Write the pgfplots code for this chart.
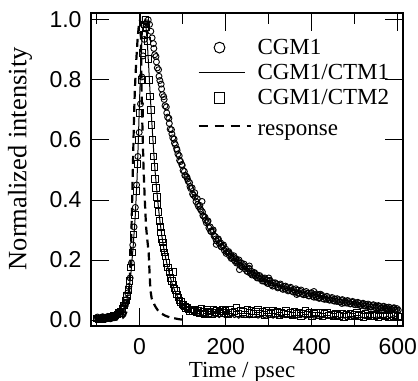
\documentclass[border=0pt]{standalone}
\usepackage{fontspec}
\setmainfont{Liberation Serif}
\newfontfamily\ticksf{Liberation Sans}
\usepackage{pgfplots}
\pgfplotsset{compat=1.18}
\begin{document}
\begin{tikzpicture}
\begin{axis}[name=ax, scale only axis, width=312bp, height=313bp,
  xmin=-113, xmax=612, ymin=-0.02, ymax=1.023,
  xtick={0,200,400,600}, minor xtick={-100,100,300,500},
  ytick={0,0.2,0.4,0.6,0.8,1.0},
  tick align=inside, major tick length=18bp, minor tick length=11bp,
  every tick/.style={black, line width=0.9bp},
  axis line style={line width=1.2bp},
  /pgf/number format/assume math mode=true,
  yticklabel style={/pgf/number format/fixed, /pgf/number format/fixed zerofill, /pgf/number format/precision=1, xshift=-6bp},
  tick label style={font=\ticksf\fontsize{23bp}{27bp}\selectfont},
  xticklabel style={yshift=-9bp},
  xlabel={Time / psec}, ylabel={Normalized intensity},
  xlabel style={font=\fontsize{23bp}{27bp}\selectfont, at={(axis description cs:0.484,-0.147)}, anchor=center},
  ylabel style={font=\fontsize{26.5bp}{30bp}\selectfont, at={(axis description cs:-0.2276,0.534)}, anchor=center},
  legend cell align=left,
  legend style={at={(0.34,0.92)}, anchor=north west, draw=none, fill=none,
    inner sep=0pt, font=\fontsize{23bp}{27bp}\selectfont,
    nodes={inner sep=1bp}, row sep=6.5bp},
]
\addplot[only marks, mark=o, mark size=3bp, mark options={line width=0.9bp},
  legend image code/.code={\path[draw=none,fill=none] (0bp,-2bp) rectangle (58bp,2bp); \draw[line width=1bp] (21bp,0bp) circle (5.4bp);}]
coordinates {(-100,0.004)(-97,0.007)(-94,0.003)(-91,0.006)(-88,0.008)(-85,0.004)(-82,0.007)(-79,0.005)(-76,0.009)(-73,0.006)(-70,0.008)(-67,0.011)(-64,0.009)(-61,0.012)(-58,0.014)(-55,0.013)(-52,0.019)(-49,0.021)(-46,0.026)(-43,0.030)(-40,0.036)(-37,0.045)(-34,0.055)(-31,0.068)(-28,0.09)(-25,0.112)(-22,0.14)(-19,0.19)(-16,0.25)(-13,0.31)(-10,0.375)(-7,0.45)(-4,0.545)(-1,0.625)(2,0.72)(5,0.81)(8,0.88)(11,0.935)(14,0.97)(17,0.99)(20,1.0)(23,0.985)(26,0.962)(29,0.94)
(32,0.921)(35,0.884)(38,0.878)(41,0.840)(44,0.834)(47,0.798)(50,0.786)(53,0.751)(56,0.744)(59,0.714)(62,0.71)(65,0.676)(68,0.672)(71,0.636)(74,0.634)(77,0.607)(80,0.603)(83,0.584)(86,0.571)(89,0.553)(92,0.547)(95,0.528)(98,0.518)(101,0.498)(104,0.495)(107,0.481)(110,0.476)(113,0.462)(116,0.458)(119,0.438)(122,0.44)(125,0.416)(128,0.424)(131,0.395)(134,0.404)(137,0.378)(140,0.382)(143,0.365)(146,0.36)(149,0.346)(152,0.342)(155,0.324)(158,0.327)(161,0.307)(164,0.31)(167,0.294)(170,0.296)(173,0.28)(176,0.278)(179,0.263)(182,0.268)(185,0.256)(188,0.257)(191,0.243)(194,0.246)(197,0.232)(200,0.236)(203,0.226)(206,0.225)(209,0.214)(212,0.218)(215,0.207)(218,0.209)(221,0.197)(224,0.204)(227,0.193)(230,0.195)(233,0.182)(236,0.19)(239,0.176)(242,0.181)(245,0.17)(248,0.175)(251,0.161)(254,0.17)(257,0.156)(260,0.162)(263,0.152)(266,0.156)(269,0.146)(272,0.151)(275,0.141)(278,0.145)(281,0.137)(284,0.141)(287,0.131)(290,0.137)(293,0.127)(296,0.133)(299,0.122)
(302,0.129)(306,0.118)(310,0.124)(314,0.114)(318,0.12)(322,0.11)(326,0.116)(330,0.106)(334,0.112)(338,0.103)(342,0.108)(346,0.1)(350,0.105)(354,0.096)(358,0.101)(362,0.093)(366,0.099)(370,0.09)(374,0.095)(378,0.087)(382,0.092)(386,0.085)(390,0.089)(394,0.081)(398,0.088)(402,0.079)(406,0.084)(410,0.076)(414,0.082)(418,0.074)(422,0.079)(426,0.071)(430,0.076)(434,0.069)(438,0.074)(442,0.067)(446,0.071)(450,0.064)(454,0.07)(458,0.062)(462,0.067)(466,0.06)(470,0.065)(474,0.058)(478,0.063)(482,0.056)(486,0.061)(490,0.054)(494,0.059)(498,0.052)(502,0.057)(506,0.051)(510,0.055)(514,0.049)(518,0.053)(522,0.047)(526,0.052)(530,0.045)(534,0.05)(538,0.044)(542,0.048)(546,0.042)(550,0.047)(554,0.041)(558,0.045)(562,0.04)(566,0.044)(570,0.038)(574,0.042)(578,0.037)(582,0.041)(586,0.035)(590,0.039)(594,0.034)(598,0.038)(601,0.033)
(145,0.395)(178,0.252)(232,0.168)(255,0.18)(300,0.14)(365,0.085)(405,0.095)(420,0.086)(470,0.055)
(-98,0.01)(-92,0.002)(-86,0.011)(-80,0.002)(-74,0.012)(-68,0.004)(-62,0.015)(-56,0.009)(-50,0.024)(-44,0.022)(-38,0.046)(-32,0.058)
(33,0.905)(39,0.86)(45,0.812)(51,0.77)(57,0.735)(63,0.69)(69,0.655)(75,0.62)(81,0.59)(87,0.566)(93,0.532)(99,0.515)(105,0.482)(111,0.47)(117,0.445)(123,0.42)(129,0.41)(135,0.385)(141,0.37)(147,0.348)(153,0.333)(159,0.33)(165,0.296)(171,0.3)(177,0.27)(183,0.27)(189,0.245)(195,0.25)(201,0.222)(207,0.228)(213,0.205)(219,0.214)(225,0.19)(231,0.2)(237,0.178)(243,0.186)(249,0.163)(255,0.172)(261,0.15)(267,0.158)(273,0.14)(279,0.148)(285,0.13)(291,0.14)(297,0.122)(303,0.132)(309,0.113)(315,0.124)(321,0.107)(327,0.12)(333,0.102)(339,0.113)(345,0.097)(351,0.109)(357,0.093)(363,0.104)(369,0.088)(375,0.1)(381,0.084)(387,0.095)(393,0.08)(399,0.091)(405,0.076)(411,0.087)(417,0.072)(423,0.083)(429,0.069)(435,0.079)(441,0.066)(447,0.075)(453,0.063)(459,0.071)(465,0.06)(471,0.068)(477,0.057)(483,0.065)(489,0.054)(495,0.062)(501,0.051)(507,0.059)(513,0.048)(519,0.056)(525,0.046)(531,0.053)(537,0.043)(543,0.051)(549,0.041)(555,0.048)(561,0.039)(567,0.046)(573,0.037)(579,0.043)(585,0.035)(591,0.041)(597,0.033)};
\addlegendentry{CGM1}
\addplot[black, line width=1bp, mark=none,
  legend image code/.code={\path[draw=none,fill=none] (0bp,-2bp) rectangle (58bp,2bp); \draw[line width=1bp] (0bp,0bp) -- (46bp,0bp);}]
coordinates {(-105,0.004)(-95,0.005)(-85,0.006)(-75,0.008)(-65,0.01)(-55,0.014)(-50,0.018)(-45,0.024)(-40,0.032)(-35,0.045)(-30,0.065)(-25,0.1)(-20,0.16)(-15,0.245)(-10,0.35)(-6,0.47)(-3,0.6)(0,0.74)(3,0.87)(6,0.95)(9,0.99)(12,1.0)(15,0.975)(18,0.92)(21,0.845)(24,0.765)(27,0.69)(30,0.62)(33,0.555)(36,0.495)(40,0.43)(44,0.37)(48,0.32)(52,0.277)(56,0.24)(60,0.21)(65,0.178)(70,0.148)(75,0.124)(80,0.104)(85,0.087)(90,0.073)(95,0.061)(100,0.051)(105,0.043)(110,0.036)(115,0.031)(120,0.026)(125,0.022)(130,0.019)(135,0.017)(140,0.014)(145,0.018)(150,0.011)(155,0.016)(160,0.012)(165,0.009)(170,0.015)(175,0.01)(180,0.013)(185,0.008)(190,0.014)(195,0.011)(200,0.007)(205,0.013)(210,0.01)(215,0.015)(220,0.008)(225,0.012)(230,0.006)(235,0.011)(240,0.014)(245,0.008)(250,0.012)(255,0.007)(260,0.011)(265,0.009)(270,0.013)(275,0.006)(280,0.01)(285,0.012)(290,0.007)(295,0.011)(300,0.008)(305,0.012)(310,0.006)(315,0.01)(320,0.009)(325,0.013)(330,0.006)(335,0.01)(340,0.008)(345,0.012)(350,0.005)(355,0.009)(360,0.011)(365,0.006)(370,0.01)(375,0.008)(380,0.012)(385,0.005)(390,0.009)(395,0.007)(400,0.011)(405,0.006)(410,0.009)(415,0.005)(420,0.01)(425,0.007)(430,0.011)(435,0.005)(440,0.008)(445,0.01)(450,0.006)(455,0.009)(460,0.005)(465,0.008)(470,0.01)(475,0.006)(480,0.009)(485,0.005)(490,0.008)(495,0.011)(500,0.006)(505,0.009)(510,0.007)(515,0.01)(520,0.006)(525,0.008)(530,0.012)(535,0.007)(540,0.009)(545,0.006)(550,0.01)(555,0.008)(560,0.011)(565,0.007)(570,0.009)(575,0.013)(580,0.008)(585,0.01)(590,0.014)(595,0.011)(600,0.015)};
\addlegendentry{CGM1/CTM1}
\addplot[only marks, mark=square, mark size=3.2bp, mark options={line width=0.9bp},
  legend image code/.code={\path[draw=none,fill=none] (0bp,-2bp) rectangle (58bp,2bp); \draw[line width=1bp] (15.5bp,-5.3bp) rectangle (26.1bp,5.3bp);}]
coordinates {(-100,0.005)(-96,0.003)(-92,0.006)(-88,0.004)(-84,0.007)(-80,0.005)(-76,0.008)(-72,0.007)(-68,0.01)(-64,0.009)(-60,0.013)(-56,0.015)(-52,0.018)(-48,0.024)(-44,0.028)(-40,0.037)(-36,0.048)(-32,0.065)(-29,0.08)(-26,0.1)(-23,0.13)(-20,0.175)(-17,0.225)(-14,0.285)(-11,0.35)(-8,0.43)(-5,0.52)(-2,0.6)(1,0.69)(4,0.8)(7,0.89)(10,0.95)(12,0.985)(14,1.0)(16,0.975)(18,0.93)(20,0.87)(22,0.8)(24,0.745)(26,0.7)(28,0.65)(30,0.6)(32,0.545)(34,0.51)(36,0.47)(38,0.44)(40,0.41)(42,0.385)(44,0.36)(46,0.33)(48,0.31)(50,0.292)(52,0.27)(54,0.258)(56,0.24)(58,0.225)(60,0.212)(63,0.19)(66,0.175)(69,0.16)(72,0.14)(75,0.13)(77,0.16)(78,0.118)(81,0.105)(84,0.098)(87,0.085)(90,0.075)(93,0.066)(96,0.06)(99,0.052)(102,0.05)(105,0.045)(108,0.04)(111,0.042)(114,0.035)(117,0.03)(120,0.036)(124,0.028)(128,0.033)(132,0.025)(136,0.031)(140,0.022)(144,0.038)(148,0.027)(152,0.02)(156,0.034)(160,0.024)(164,0.029)(168,0.018)(172,0.035)(176,0.026)(180,0.032)(184,0.021)(188,0.028)(192,0.036)(196,0.024)(200,0.03)(205,0.019)(210,0.033)(215,0.025)(220,0.029)(225,0.04)(230,0.022)(235,0.031)(240,0.027)(245,0.018)(250,0.034)(255,0.024)(260,0.03)(265,0.02)(270,0.028)(275,0.036)(280,0.022)(285,0.027)(290,0.017)(295,0.031)(300,0.025)(305,0.02)(310,0.032)(315,0.023)(320,0.028)(325,0.016)(330,0.026)(335,0.021)(340,0.03)(345,0.019)(350,0.024)(355,0.015)(360,0.027)(365,0.02)(370,0.025)(375,0.014)(380,0.022)(385,0.03)(390,0.018)(395,0.024)(400,0.013)(405,0.021)(410,0.026)(415,0.016)(420,0.023)(425,0.012)(430,0.02)(435,0.025)(440,0.015)(445,0.019)(450,0.011)(455,0.022)(460,0.017)(465,0.013)(470,0.02)(475,0.01)(480,0.018)(485,0.014)(490,0.022)(495,0.012)(500,0.017)(505,0.026)(510,0.013)(515,0.018)(520,0.01)(525,0.02)(530,0.015)(535,0.011)(540,0.019)(545,0.013)(550,0.017)(555,0.01)(560,0.015)(565,0.02)(570,0.012)(575,0.016)(580,0.01)(585,0.018)(590,0.013)(595,0.016)(600,0.011)};
\addlegendentry{CGM1/CTM2}
\addplot[black, line width=2.2bp, dash pattern=on 8bp off 5bp, mark=none,
  legend image code/.code={\path[draw=none,fill=none] (0bp,-2bp) rectangle (58bp,2bp); \draw[line width=2.5bp, dash pattern=on 9bp off 7bp] (0bp,0bp) -- (52bp,0bp);}]
coordinates {(-100,0)(-60,0.0)(-50,0.002)(-40,0.006)(-34,0.015)(-30,0.03)(-27,0.06)(-24,0.11)(-21,0.2)(-19,0.3)(-17,0.42)(-15,0.55)(-13,0.68)(-11,0.77)(-8,0.86)(-5,0.93)(-2,0.98)(1,1.0)(3,0.94)(5,0.72)(7,0.62)(9,0.51)(12,0.4)(15,0.31)(18,0.265)(21,0.225)(23,0.16)(25,0.1)(28,0.072)(32,0.058)(36,0.046)(42,0.033)(50,0.022)(60,0.014)(70,0.009)(80,0.006)(90,0.003)(100,0.001)(110,0)};
\addlegendentry{\rule{0pt}{21bp}response}
\end{axis}
\pgfresetboundingbox
\path[use as bounding box] ([xshift=-91bp,yshift=-55bp]ax.south west) rectangle ([xshift=15bp,yshift=13bp]ax.north east);
\end{tikzpicture}
\end{document}
